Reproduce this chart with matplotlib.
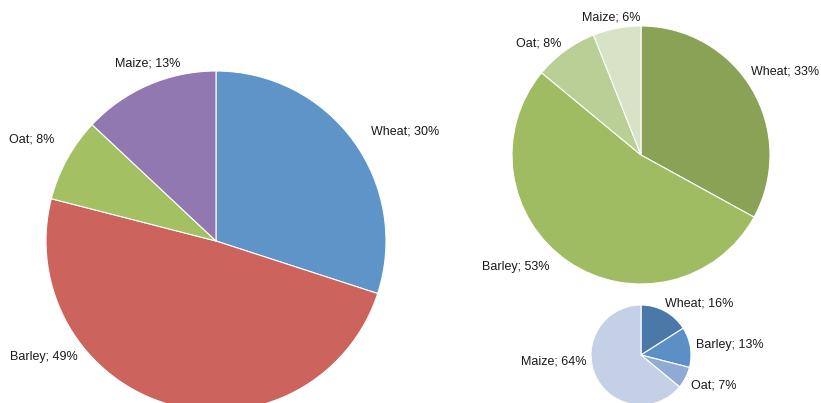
import matplotlib
matplotlib.use("Agg")
import matplotlib.pyplot as plt

plt.rcParams['font.family'] = ['Liberation Sans', 'DejaVu Sans']

categories = ["Wheat", "Barley", "Oat", "Maize"]

left_values = [30, 49, 8, 13]
left_colors = ["#5f94c9", "#cc635c", "#a3c063", "#9178b0"]

tr_values = [33, 53, 8, 6]
tr_colors = ["#8aa256", "#a0bc62", "#b9cf95", "#d7e2c6"]

small_values = [16, 13, 7, 64]
small_colors = ["#4a78a8", "#5b8fc6", "#8fabd3", "#c3d0e6"]

W, H = 821, 403
fig = plt.figure(figsize=(W / 100, H / 100), dpi=100)
ax = fig.add_axes([0, 0, 1, 1])

# (values, colors, center in px (x, y from top), radius px, label anchors in category order)
pies = [
    (left_values, left_colors, (216, 241), 170,
     [(371, 132), (10, 357), (9, 139), (115, 63)]),
    (tr_values, tr_colors, (641, 155), 129,
     [(751, 71), (482, 267), (516, 44), (582, 18)]),
    (small_values, small_colors, (641, 355), 50,
     [(665, 304), (696, 345), (691, 385), (521, 362)]),
]

for vals, cols, (cx, cy), r, lab_pos in pies:
    ax.pie(vals, colors=cols, startangle=90, counterclock=False,
           center=(cx, H - cy), radius=r, frame=True,
           wedgeprops=dict(edgecolor='white', linewidth=0.8))
    for cat, v, (x, y) in zip(categories, vals, lab_pos):
        ax.text(x, H - y, f"{cat}; {v}%", ha='left', va='center',
                fontsize=9, color='#1a1a1a')

ax.set_xlim(0, W)
ax.set_ylim(0, H)
ax.set_aspect('equal')
ax.axis('off')
fig.savefig("out.png", dpi=100, facecolor='white')
